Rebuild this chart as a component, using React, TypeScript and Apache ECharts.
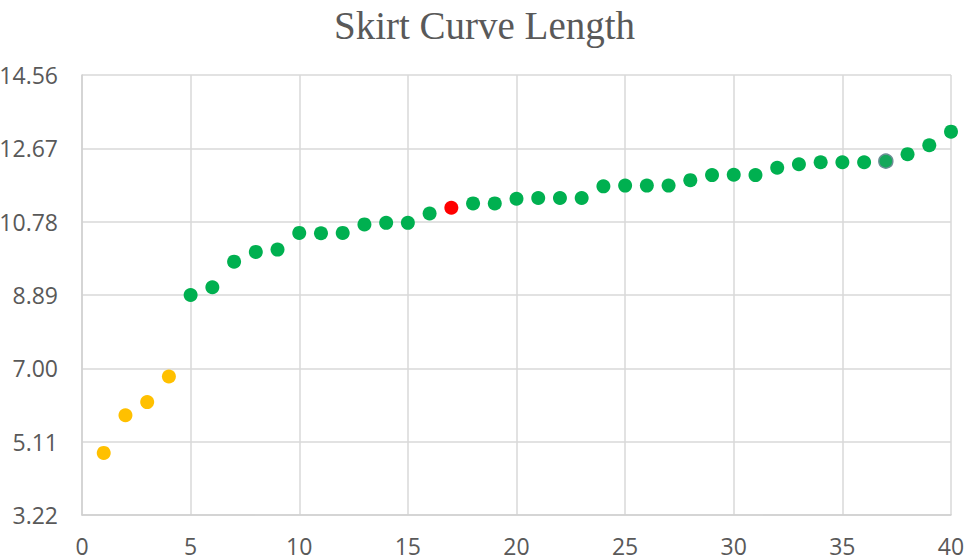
import React, { useEffect, useRef } from "react";
import * as echarts from "echarts";

const titleText = "Skirt Curve Length";
const xValues = [
  1, 2, 3, 4, 5, 6, 7, 8, 9, 10, 11, 12, 13, 14, 15, 16, 17, 18, 19, 20,
  21, 22, 23, 24, 25, 26, 27, 28, 29, 30, 31, 32, 33, 34, 35, 36, 37, 38, 39, 40,
];
const lengths = [
  4.82, 5.79, 6.13, 6.79, 8.89, 9.09, 9.75, 10.0, 10.06, 10.49,
  10.48, 10.49, 10.71, 10.75, 10.75, 10.99, 11.14, 11.25, 11.25, 11.37,
  11.39, 11.39, 11.39, 11.69, 11.71, 11.71, 11.71, 11.85, 11.98, 11.99,
  11.98, 12.17, 12.26, 12.31, 12.31, 12.31, 12.34, 12.52, 12.75, 13.1,
];
// status of each point: "low" (yellow), "ok" (green), "mark" (red), "sel" (grey-green)
const status = [
  "low", "low", "low", "low", "ok", "ok", "ok", "ok", "ok", "ok",
  "ok", "ok", "ok", "ok", "ok", "ok", "mark", "ok", "ok", "ok",
  "ok", "ok", "ok", "ok", "ok", "ok", "ok", "ok", "ok", "ok",
  "ok", "ok", "ok", "ok", "ok", "ok", "sel", "ok", "ok", "ok",
];
const yTicks = [3.22, 5.11, 7.0, 8.89, 10.78, 12.67, 14.56];
const xTicks = [0, 5, 10, 15, 20, 25, 30, 35, 40];

const colors: Record<string, { color: string; border?: string }> = {
  low: { color: "#FFC000" },
  ok: { color: "#00B050" },
  mark: { color: "#FF0000" },
  sel: { color: "#14A85A", border: "#6A8E94" },
};

export default function App() {
  const ref = useRef<HTMLDivElement>(null);
  useEffect(() => {
    if (!ref.current) return;
    const chart = echarts.init(ref.current, null, { renderer: "svg" });
    const data = xValues.map((x, i) => {
      const c = colors[status[i]];
      return {
        value: [x, lengths[i]],
        itemStyle: {
          color: c.color,
          opacity: 1,
          borderColor: c.border || c.color,
          borderWidth: c.border ? 1.5 : 0,
        },
      };
    });
    chart.setOption({
      animation: false,
      backgroundColor: "#ffffff",
      title: {
        text: titleText,
        left: "center",
        top: 1,
        textStyle: {
          fontFamily: "Liberation Serif",
          fontSize: 39,
          fontWeight: "normal",
          color: "#595959",
        },
      },
      grid: {
        left: 82,
        right: 18,
        top: 75,
        bottom: 45,
        containLabel: false,
        outerBoundsMode: "none",
      },
      xAxis: {
        type: "value",
        min: xTicks[0],
        max: xTicks[xTicks.length - 1],
        interval: 5,
        axisLine: { show: true, lineStyle: { color: "#D0D0D0", width: 1.5 } },
        axisTick: { show: false },
        axisLabel: {
          color: "#595959",
          fontFamily: "Open Sans",
          fontSize: 23,
          margin: 19,
        },
        splitLine: { show: true, lineStyle: { color: "#D9D9D9", width: 1.5 } },
      },
      yAxis: {
        type: "value",
        min: yTicks[0],
        max: yTicks[yTicks.length - 1],
        axisLine: { show: true, lineStyle: { color: "#D0D0D0", width: 1.5 } },
        axisTick: { show: false, customValues: yTicks },
        axisLabel: {
          customValues: yTicks,
          color: "#595959",
          fontFamily: "Open Sans",
          fontSize: 23,
          margin: 24,
          formatter: (v: number) => v.toFixed(2),
        },
        splitLine: { show: true, lineStyle: { color: "#D9D9D9", width: 1.5 } },
      },
      series: [
        {
          type: "scatter",
          symbol: "circle",
          symbolSize: 14,
          itemStyle: { opacity: 1 },
          data,
        },
      ],
    });
    return () => chart.dispose();
  }, []);
  return (
    <div
      ref={ref}
      style={{ position: "fixed", left: 0, top: 0, width: 969, height: 560 }}
    />
  );
}
